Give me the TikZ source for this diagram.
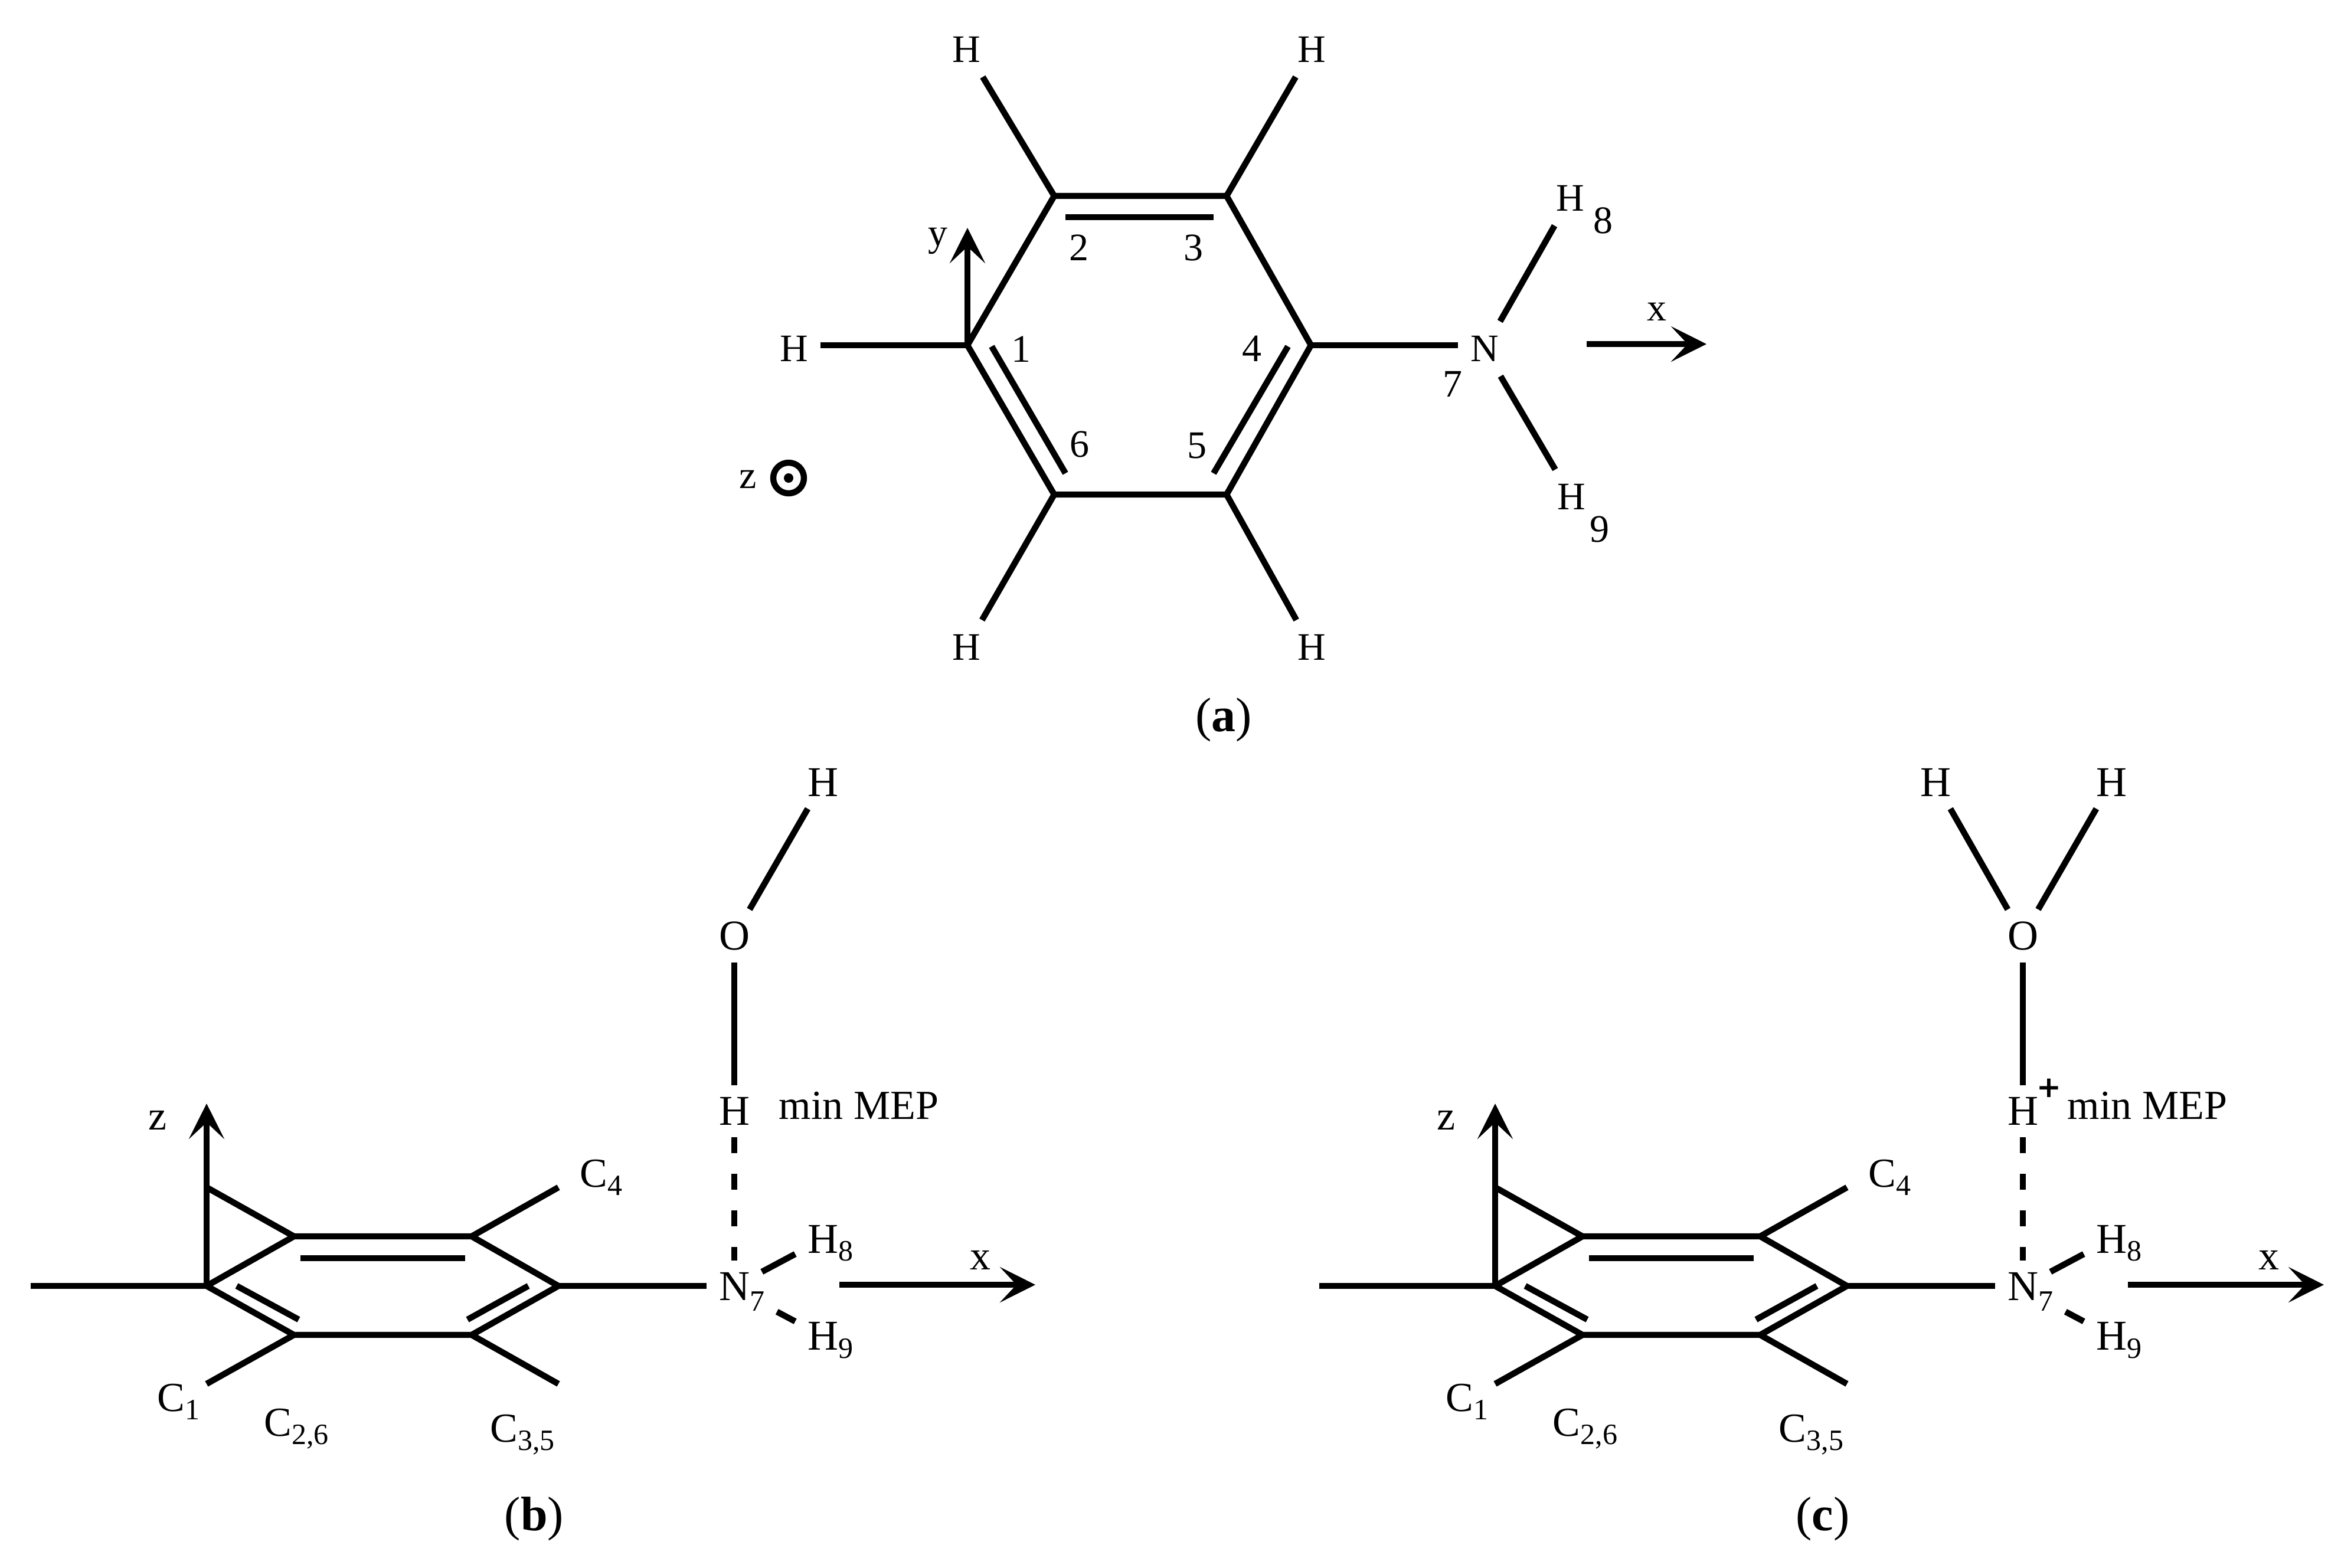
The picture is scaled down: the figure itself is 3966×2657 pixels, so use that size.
\documentclass[tikz,border=0pt]{standalone}
\usepackage{fontspec}
\setmainfont{Liberation Serif}
\newfontfamily\plusfont{DejaVu Sans}
\usetikzlibrary{arrows.meta}
\usetikzlibrary{positioning}

\tikzset{
  bond/.style={line width=2.6pt},
  axis/.style={line width=2.6pt,-{Stealth[length=15pt,width=15pt,inset=7pt]}},
  atom/.style={font=\fontsize{16.5}{18}\selectfont,inner xsep=5pt,inner ysep=6pt},
  sideatom/.style={font=\fontsize{18}{20}\selectfont,inner xsep=5pt,inner ysep=5pt},
  lbl/.style={font=\fontsize{16.5}{18}\selectfont,inner sep=0pt},
  sidelbl/.style={font=\fontsize{17.5}{20}\selectfont,inner sep=0pt},
  subnum/.style={font=\fontsize{12.5}{14}\selectfont,inner xsep=5pt,inner ysep=2pt},
  caption/.style={font=\fontsize{20.5}{22}\selectfont,inner sep=0pt}
}
\newcommand{\sbs}[1]{\raisebox{-3.6pt}{\fontsize{12.5}{14}\selectfont #1}}
\newcommand{\capt}[1]{(\textbf{#1})}

% side view, drawn twice: (b) and (c)
\newcommand{\sideview}{
    \coordinate (cone) at (350,2179);
    \coordinate (ctl) at (498,2095);
    \coordinate (ctr) at (799,2095);
    \coordinate (cr) at (946,2179);
    \coordinate (cbl) at (498,2262);
    \coordinate (cbr) at (799,2262);
    \coordinate (cleft) at (52,2179);
    \coordinate (capex) at (350,2012);
    \coordinate (ztip) at (350,1870);
    \coordinate (cfour) at (946,2012);
    \coordinate (cdl) at (350,2345);
    \coordinate (cdr) at (946,2345);
    \coordinate (xstart) at (1422,2177);
    \coordinate (xtip) at (1754,2177);
    \coordinate (intl) at (509,2132);
    \coordinate (intr) at (788,2132);
    \coordinate (inla) at (401,2179);
    \coordinate (inlb) at (506,2236);
    \coordinate (inra) at (895,2179);
    \coordinate (inrb) at (792,2236);

    \draw [bond] (cone) -- (ctl) -- (ctr) -- (cr) -- (cbr) -- (cbl) -- cycle;
    \draw [bond] (cleft) -- (cone);
    \draw [bond] (capex) -- (ctl);
    \draw [bond] (ctr) -- (cfour);
    \draw [bond] (cbl) -- (cdl);
    \draw [bond] (cbr) -- (cdr);
    \draw [bond] (intl) -- (intr);
    \draw [bond] (inla) -- (inlb);
    \draw [bond] (inra) -- (inrb);
    \draw [axis] (cone) -- (ztip);
    \draw [axis] (xstart) -- (xtip);

    % Text Node
    \node (zlab) [sidelbl] at (267,1898) {z};
    \node (xlab) [sidelbl] at (1661,2135) {x};
    \node (clone) [sidelbl,anchor=base west] at (266,2391) {C\sbs{1}};
    \node (cltwo) [sidelbl,anchor=base west] at (447,2433) {C\sbs{2,6}};
    \node (clthree) [sidelbl,anchor=base west] at (830,2443) {C\sbs{3,5}};
    \node (clfour) [sidelbl,anchor=base west] at (982,2011) {C\sbs{4}};
    \node (minmep) [sidelbl] at (1455,1873) {min MEP};

    \node (oxy) [sideatom] at (1244,1586) {O};
    \node (hbr) [sideatom] at (1244,1883) {H};
    \node (nit) [sideatom] at (1244,2180) {N};
    \node (nsub) [subnum] at (1283,2205) {7};
    \node (height) [sideatom] at (1394,2100) {H};
    \node (hnine) [sideatom] at (1394,2264) {H};
    \node [subnum] at (1433,2120) {8};
    \node [subnum] at (1433,2285) {9};
    \node (htop) [sideatom] at (1394,1326) {H};

    \draw [bond] (cr) -- (cr -| nit.west);
    \draw [bond] (oxy) -- (htop);
    \draw [bond] (oxy) -- (hbr);
    \draw [bond,dash pattern=on 6.75pt off 8.75pt] (hbr) -- (nit);
    \draw [bond] (nit) -- (height);
    \draw [bond] (nsub) -- (hnine);
}

\begin{document}
\begin{tikzpicture}[x=0.25pt,y=0.25pt,yscale=-1,xscale=1]
    \useasboundingbox (0,0) rectangle (3966,2657);

    % top view ring
    \coordinate (cone) at (1639,585);
    \coordinate (ctwo) at (1786,332);
    \coordinate (cthree) at (2078,332);
    \coordinate (cfour) at (2221,585);
    \coordinate (cfive) at (2078,838);
    \coordinate (csix) at (1786,838);
    \coordinate (ytip) at (1639,386);
    \coordinate (xstart) at (2688,583);
    \coordinate (xtip) at (2891,583);
    \coordinate (intopa) at (1805,368);
    \coordinate (intopb) at (2056,368);
    \coordinate (inlefta) at (1680,587);
    \coordinate (inleftb) at (1805,802);
    \coordinate (inrighta) at (2182,587);
    \coordinate (inrightb) at (2056,802);

    \draw [bond] (cone) -- (ctwo) -- (cthree) -- (cfour) -- (cfive) -- (csix) -- cycle;
    \draw [bond] (intopa) -- (intopb);
    \draw [bond] (inlefta) -- (inleftb);
    \draw [bond] (inrighta) -- (inrightb);
    \draw [axis] (cone) -- (ytip);
    \draw [axis] (xstart) -- (xtip);

    % Text Node
    \node (hone) [atom] at (1345,591) {H};
    \node (htwo) [atom] at (1637,84) {H};
    \node (hthree) [atom] at (2222,84) {H};
    \node (hfive) [atom] at (2222,1097) {H};
    \node (hsix) [atom] at (1637,1097) {H};
    \node (nit) [atom] at (2515,591) {N};
    \node (height) [atom] at (2660,336) {H};
    \node (hnine) [atom] at (2662,842) {H};

    \node (numone) [lbl] at (1730,592) {1};
    \node (numtwo) [lbl] at (1828,420) {2};
    \node (numthree) [lbl] at (2022,420) {3};
    \node (numfour) [lbl] at (2121,591) {4};
    \node (numfive) [lbl] at (2028,755) {5};
    \node (numsix) [lbl] at (1829,753) {6};
    \node (numseven) [lbl] at (2461,651) {7};
    \node (numeight) [lbl] at (2716,374) {8};
    \node (numnine) [lbl] at (2710,897) {9};
    \node (ylab) [lbl] at (1589,408) {y};
    \node (xlab) [lbl] at (2807,528) {x};
    \node (zlab) [lbl] at (1267,812) {z};

    \draw [bond] (cone) -- (cone -| hone.east);
    \draw [bond] (ctwo) -- (htwo);
    \draw [bond] (cthree) -- (hthree);
    \draw [bond] (cfive) -- (hfive);
    \draw [bond] (csix) -- (hsix);
    \draw [bond] (cfour) -- (cfour -| nit.west);
    \draw [bond] (nit) -- (height);
    \draw [bond] (nit) -- (hnine);

    % out of plane axis
    \node (zdot) [circle,draw,line width=2.6pt,minimum size=13pt,inner sep=0pt] at (1336,810) {};
    \fill (zdot.center) circle (8);

    \node (capa) [caption] at (2073,1220) {\capt{a}};

    % (b)
    \begin{scope}[name prefix=b]
    \sideview
    \node (capb) [caption] at (905,2574) {\capt{b}};
    \end{scope}

    % (c)
    \begin{scope}[xshift=545.75pt,name prefix=c]
    \sideview
    \node (htopl) [sideatom] at (1096,1326) {H};
    \draw [bond] (oxy) -- (htopl);
    \node (plus) [inner sep=0pt,font=\fontsize{12.5}{14}\plusfont\bfseries] at (1288,1844) {+};
    \node (capc) [caption] at (905,2574) {\capt{c}};
    \end{scope}

\end{tikzpicture}
\end{document}
